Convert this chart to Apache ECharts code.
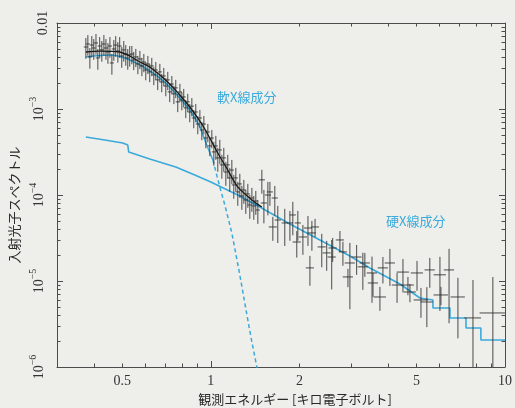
<!DOCTYPE html>
<html><head><meta charset="utf-8">
<script src="https://cdn.jsdelivr.net/npm/echarts@6/dist/echarts.min.js"></script>
<style>html,body{margin:0;padding:0;background:#eeeeeb}#c{width:515px;height:408px}</style>
</head><body><div id="c"></div>
<script>
// ---- observed spectrum (keV, photon spectrum) ----
const energy = [
0.376,0.382,0.388,0.394,0.400,0.407,0.413,0.419,0.426,0.433,0.440,0.447,0.454,0.461,0.468,0.475,0.483,0.490,0.498,0.506,0.514,0.522,0.530,
0.539,0.547,0.556,0.565,0.574,0.583,0.592,0.601,0.611,0.620,0.630,0.640,0.650,0.660,0.671,0.681,0.692,0.703,0.714,0.725,0.737,0.749,0.760,0.772,0.785,0.797,0.809,0.822,0.835,0.848,0.862,0.875,0.889,0.903,0.918,0.932,0.947,0.962,0.977,0.992,1.008,
1.024,1.040,1.056,1.073,1.090,1.107,1.125,1.142,1.160,1.179,1.197,1.216,1.235,1.255,1.275,1.295,1.315,1.336,1.357,1.379,1.400,1.422,1.445,
1.491,1.515,1.563,1.588,1.625,1.650,1.689,1.784,1.857,1.900,1.960,1.976,2.056,2.139,2.172,2.206,2.261,2.383,2.477,2.576,2.596,2.747,2.812,2.925,2.970,3.131,3.287,3.339,3.531,3.559,3.757,3.846,4.063,4.296,4.499,4.678,4.752,5.022,5.180,5.425,5.551,6.010,6.057,6.454,6.918,7.782,9.094];
const flux = [
5.26e-3,5.70e-3,4.03e-3,5.55e-3,5.12e-3,5.86e-3,3.92e-3,5.40e-3,4.86e-3,5.70e-3,5.12e-3,4.60e-3,5.40e-3,3.43e-3,4.99e-3,5.55e-3,4.73e-3,5.40e-3,4.13e-3,4.86e-3,4.36e-3,3.92e-3,4.25e-3,
4.36e-3,3.72e-3,4.03e-3,3.34e-3,3.82e-3,3.17e-3,3.52e-3,2.84e-3,3.34e-3,2.70e-3,3.17e-3,2.49e-3,2.84e-3,2.18e-3,2.70e-3,2.06e-3,2.42e-3,1.85e-3,2.18e-3,1.58e-3,1.95e-3,1.50e-3,1.76e-3,1.21e-3,1.58e-3,1.27e-3,1.38e-3,1.03e-3,1.21e-3,9.23e-4,1.08e-3,7.86e-4,9.23e-4,6.69e-4,7.86e-4,5.70e-4,6.69e-4,4.60e-4,5.40e-4,3.72e-4,4.60e-4,
3.17e-4,3.72e-4,2.70e-4,3.34e-4,2.24e-4,2.70e-4,1.85e-4,2.24e-4,1.58e-4,1.95e-4,1.31e-4,1.58e-4,1.085e-4,1.345e-4,9.74e-5,1.145e-4,8.75e-5,1.03e-4,7.65e-5,9.23e-5,7.45e-5,8.52e-5,6.69e-5,
1.50e-4,8.07e-5,1.0e-4,1.085e-4,4.25e-5,9.23e-5,5.12e-5,4.73e-5,4.73e-5,5.86e-5,2.84e-5,4.73e-5,3.25e-5,4.13e-5,1.42e-5,3.62e-5,4.25e-5,2.49e-5,2.12e-5,1.90e-5,2.42e-5,3.00e-5,2.18e-5,1.115e-5,1.62e-5,1.90e-5,1.46e-5,1.62e-5,1.24e-5,9.48e-6,6.52e-6,1.42e-5,1.62e-5,8.98e-6,1.27e-5,8.98e-6,7.45e-6,1.24e-5,6.02e-6,5.70e-6,1.345e-5,1.18e-5,6.88e-6,1.345e-5,6.52e-6,3.72e-6,4.25e-6];
// relative 1-sigma flux error
const fluxRelErr = [
0.27,0.27,0.27,0.27,0.27,0.27,0.27,0.27,0.27,0.27,0.27,0.27,0.27,0.27,0.27,0.27,0.27,0.27,0.27,0.27,0.27,0.27,0.27,
0.24,0.24,0.24,0.24,0.24,0.24,0.24,0.24,0.24,0.24,0.24,0.24,0.24,0.24,0.24,0.24,0.24,0.24,0.24,0.24,0.24,0.24,0.24,0.24,0.24,0.24,0.24,0.24,0.24,0.24,0.24,0.24,0.24,0.24,0.24,0.24,0.24,0.24,0.24,0.24,0.24,
0.31,0.31,0.31,0.31,0.31,0.31,0.31,0.31,0.31,0.31,0.31,0.31,0.31,0.31,0.31,0.31,0.31,0.31,0.31,0.31,0.31,0.31,0.31,
0.31,0.42,0.42,0.31,0.31,0.38,0.46,0.46,0.38,0.42,0.34,0.38,0.38,0.38,0.38,0.38,0.24,0.42,0.38,0.58,0.31,0.27,0.31,0.24,0.71,0.38,0.46,0.31,0.55,0.31,0.31,0.34,0.46,0.38,0.42,0.24,0.24,0.38,0.38,0.49,0.38,0.62,0.24,0.76,0.67,1.76,1.62];
// relative half-width of each energy bin
const binHalfWidthRel = [
0.016,0.016,0.016,0.016,0.016,0.016,0.016,0.016,0.016,0.016,0.016,0.016,0.016,0.016,0.016,0.016,0.016,0.016,0.016,0.016,0.016,0.016,0.016,
0.016,0.016,0.016,0.016,0.016,0.016,0.016,0.016,0.016,0.016,0.016,0.016,0.016,0.016,0.016,0.016,0.016,0.016,0.016,0.016,0.016,0.016,0.016,0.016,0.016,0.016,0.016,0.016,0.016,0.016,0.016,0.016,0.016,0.016,0.016,0.016,0.016,0.016,0.016,0.016,0.016,
0.016,0.016,0.016,0.016,0.016,0.016,0.016,0.016,0.016,0.016,0.016,0.016,0.016,0.016,0.016,0.016,0.016,0.016,0.016,0.016,0.016,0.016,0.016,
0.024,0.024,0.024,0.024,0.032,0.024,0.024,0.024,0.024,0.024,0.032,0.024,0.032,0.032,0.032,0.032,0.032,0.032,0.032,0.032,0.032,0.032,0.032,0.040,0.040,0.040,0.040,0.040,0.040,0.040,0.048,0.040,0.040,0.040,0.048,0.048,0.048,0.048,0.056,0.048,0.040,0.048,0.056,0.040,0.056,0.065,0.099];

// ---- model components ----
const modelE = [0.376,0.419,0.490,0.530,0.574,0.620,0.671,0.725,0.784,0.848,0.918,0.954,1.0,1.056,1.142,1.235,1.379,1.491];
const modelF = [4.60e-3,4.72e-3,4.60e-3,4.13e-3,3.52e-3,3.08e-3,2.48e-3,1.95e-3,1.455e-3,1.055e-3,7.25e-4,5.85e-4,4.36e-4,3.08e-4,1.95e-4,1.24e-4,8.75e-5,7.24e-5];
const softE = [0.376,0.453,0.510,0.574,0.620,0.671,0.725,0.784,0.848,0.918,0.954,1.016];
const softF = [4.03e-3,4.25e-3,3.92e-3,3.25e-3,2.77e-3,2.29e-3,1.80e-3,1.343e-3,9.74e-4,6.18e-4,4.36e-4,2.55e-4];
const softTailE = [1.016,1.073,1.116,1.179,1.255,1.336,1.379,1.434,1.446];
const softTailF = [2.55e-4,1.24e-4,7.65e-5,3.61e-5,1.174e-5,3.52e-6,1.95e-6,1.0e-6,8.8e-7];
const hardE = [0.376,0.436,0.502,0.522,0.526,0.620,0.760,0.882,1.0,1.235,1.468,1.857,2.348,2.970,3.474,4.394,5.139,5.69,5.69,6.50,6.50,7.37,7.37,8.28,8.28,10];
const hardF = [4.72e-4,4.36e-4,4.03e-4,3.81e-4,3.16e-4,2.62e-4,2.12e-4,1.71e-4,1.416e-4,1.0e-4,7.24e-5,4.60e-5,3.00e-5,1.955e-5,1.415e-5,9.23e-6,6.34e-6,6.01e-6,4.86e-6,4.86e-6,3.72e-6,3.72e-6,2.84e-6,2.84e-6,2.06e-6,2.06e-6];

// ---- axes ----
const X_MIN = 0.3, X_MAX = 10, Y_MIN = 1e-6, Y_MAX = 1e-2;
const xLabelValues = [0.5, 1, 2, 5, 10];
const xMajorTicks = [1, 10];
const xMinorTicks = [0.4,0.5,0.6,0.7,0.8,0.9,2,3,4,5,6,7,8,9];
const yMajorTicks = [1e-6,1e-5,1e-4,1e-3,1e-2];
const yMinorMultipliers = [2,3,4,5,6,7,8,9];

const lg = Math.log10;
const yMinorTicks = [];
yMajorTicks.slice(0, -1).forEach(d => yMinorMultipliers.forEach(m => yMinorTicks.push(m * d)));

const CYAN = '#3aaadb', AX = '#4c4c4c', SERIF = '"Liberation Serif", "DejaVu Serif", serif';
const JP = '"Noto Sans CJK JP", sans-serif';

const pts = energy.map((e, i) => {
  const f = flux[i], s = fluxRelErr[i], w = binHalfWidthRel[i];
  const lo = f * (1 - s);
  return [lg(e), lg(f), lg(e * (1 - w)), lg(e * (1 + w)), lo > Y_MIN ? lg(lo) : lg(Y_MIN) - 0.05, lg(f * (1 + s))];
});
const toLine = (E, F) => E.map((e, i) => [lg(e), lg(F[i])]);

const hiddenLine = {show:false, onZero:false};
const lineAx = {show:true, onZero:false, lineStyle:{color:AX, width:1}};
const xBase = {type:'value', min: lg(X_MIN), max: lg(X_MAX), splitLine:{show:false},
  axisLine: hiddenLine, axisLabel:{show:false}, axisTick:{show:false}};
const yBase = {type:'value', min: lg(Y_MIN), max: lg(Y_MAX), splitLine:{show:false},
  axisLine: hiddenLine, axisLabel:{show:false}, axisTick:{show:false}};
const tick = (vals, len) => ({show:true, inside:true, length:len, customValues: vals.map(lg), lineStyle:{color:AX, width:1}});

const chart = echarts.init(document.getElementById('c'), null, {renderer:'canvas'});
chart.setOption({
  backgroundColor: '#eeeeeb',
  animation: false,
  grid: {left:57, right:10, top:23, bottom:41, containLabel:false, outerBoundsMode:'none'},
  xAxis: [
    Object.assign({}, xBase, {position:'bottom', axisLine: lineAx, axisTick: tick(xMajorTicks, 6),
      axisLabel:{show:true, customValues: xLabelValues.map(lg), margin:7, fontFamily:SERIF, fontSize:14, color:'#333',
        formatter: v => String(+Math.pow(10, v).toPrecision(2))},
      name:'観測エネルギー [キロ電子ボルト]', nameLocation:'middle', nameGap:23,
      nameTextStyle:{fontFamily:JP, fontSize:13, color:'#2a2a2a', padding:[0,0,0,28]}}),
    Object.assign({}, xBase, {position:'bottom', axisTick: tick(xMinorTicks, 3.5)}),
    Object.assign({}, xBase, {position:'top', axisLine: lineAx, axisTick: tick(xMajorTicks, 6)}),
    Object.assign({}, xBase, {position:'top', axisTick: tick(xMinorTicks, 3.5)})
  ],
  yAxis: [
    Object.assign({}, yBase, {position:'left', axisLine: lineAx, axisTick: tick(yMajorTicks, 6),
      axisLabel:{show:true, customValues: yMajorTicks.map(lg), rotate:90, margin:7, fontFamily:SERIF, fontSize:14, color:'#333',
        formatter: v => { const e = Math.round(v); return e === -2 ? '0.01' : '{b|10}{s|\u2212' + (-e) + '}'; },
        rich:{ b:{fontFamily:SERIF, fontSize:14, color:'#333', lineHeight:22},
               s:{fontFamily:SERIF, fontSize:10, color:'#333', verticalAlign:'top', lineHeight:11} }},
      name:'入射光子スペクトル', nameLocation:'middle', nameGap:35,
      nameTextStyle:{fontFamily:JP, fontSize:13, color:'#2a2a2a', padding:[0,20,0,0]}}),
    Object.assign({}, yBase, {position:'left', axisTick: tick(yMinorTicks, 3.5)}),
    Object.assign({}, yBase, {position:'right', axisLine: lineAx, axisTick: tick(yMajorTicks, 6)}),
    Object.assign({}, yBase, {position:'right', axisTick: tick(yMinorTicks, 3.5)})
  ],
  series: [
    {type:'line', name:'硬X線成分', data: toLine(hardE, hardF), showSymbol:false, z:2,
      lineStyle:{color:CYAN, width:1.6}},
    {type:'line', name:'軟X線成分', data: toLine(softE, softF), showSymbol:false, smooth:0.3, z:2,
      lineStyle:{color:CYAN, width:1.5}},
    {type:'line', name:'軟X線成分(外挿)', data: toLine(softTailE, softTailF), showSymbol:false, z:2,
      lineStyle:{color:CYAN, width:1.5, type:[4,3]}},
    {type:'custom', name:'観測データ', data: pts, clip:true, z:3,
      encode:{x:0, y:1},
      renderItem: (params, api) => {
        const c = api.coord([api.value(0), api.value(1)]);
        const xl = api.coord([api.value(2), api.value(1)])[0];
        const xh = api.coord([api.value(3), api.value(1)])[0];
        const yl = api.coord([api.value(0), api.value(4)])[1];
        const yh = api.coord([api.value(0), api.value(5)])[1];
        const st = {stroke:'#2e2e2e', lineWidth:1, opacity:0.85};
        return {type:'group', children:[
          {type:'line', shape:{x1:c[0], y1:yl, x2:c[0], y2:yh}, style:st},
          {type:'line', shape:{x1:xl, y1:c[1], x2:xh, y2:c[1]}, style:st}
        ]};
      }},
    {type:'line', name:'モデル', data: toLine(modelE, modelF), showSymbol:false, smooth:0.3, z:4,
      lineStyle:{color:'#1a1a1a', width:1.3}}
  ],
  graphic: [
    {type:'text', left:217, top:91, z:10, style:{text:'軟X線成分', fill:CYAN, font:'13px ' + JP}},
    {type:'text', left:386, top:215, z:10, style:{text:'硬X線成分', fill:CYAN, font:'13px ' + JP}}
  ]
});
</script></body></html>
